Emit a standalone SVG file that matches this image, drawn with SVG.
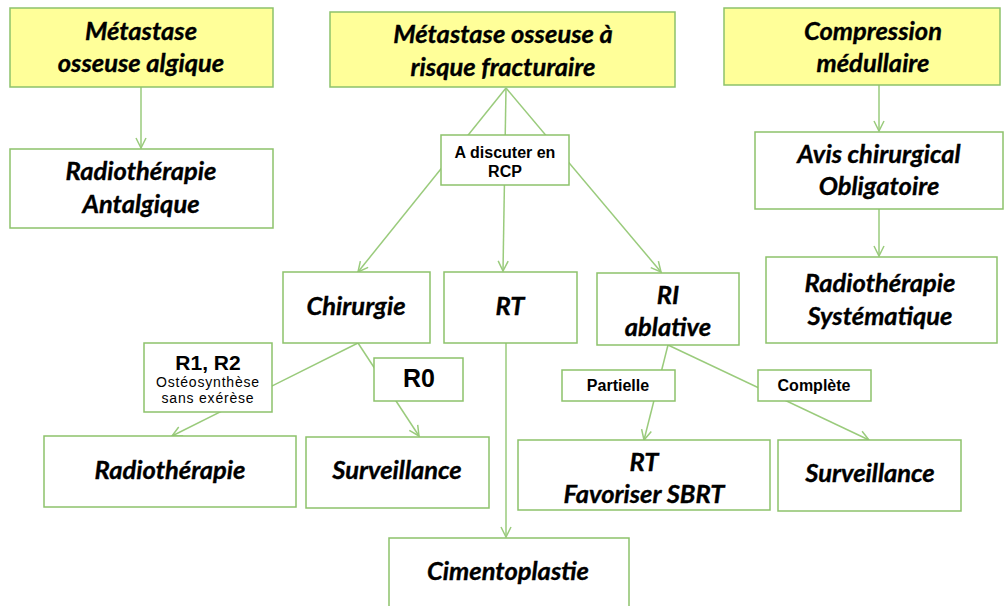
<svg xmlns="http://www.w3.org/2000/svg" width="1008" height="606" viewBox="0 0 1008 606">
<style>
.box{fill:#ffffff;stroke:#8dc26b;stroke-width:1.5}
.ybox{fill:#ffff99;stroke:#8dc26b;stroke-width:1.5}
.t{font-family:Lato,"Open Sans",sans-serif;font-weight:bold;font-style:italic;font-size:25.5px;fill:#000;stroke:#000;stroke-width:0.35;text-anchor:middle}
.s{font-family:"Liberation Sans",Arial,sans-serif;font-weight:bold;font-size:16px;fill:#000;text-anchor:middle}
.c{fill:none;stroke:#9acb7c;stroke-width:1.5}
</style>
<defs>
<marker id="ah" viewBox="0 0 12 12" refX="11" refY="6" markerWidth="12" markerHeight="12" markerUnits="userSpaceOnUse" orient="auto">
<polyline points="1,1 11,6 1,11" fill="none" stroke="#9acb7c" stroke-width="1.5"/>
</marker>
</defs>
<g id="connectors">
<line class="c" x1="141" y1="87" x2="141" y2="148" marker-end="url(#ah)"/>
<line class="c" x1="879" y1="85" x2="879" y2="131" marker-end="url(#ah)"/>
<line class="c" x1="879" y1="209" x2="879" y2="256" marker-end="url(#ah)"/>
<line class="c" x1="506" y1="88" x2="358" y2="272" marker-end="url(#ah)"/>
<line class="c" x1="506" y1="88" x2="503" y2="271" marker-end="url(#ah)"/>
<line class="c" x1="506" y1="88" x2="661" y2="272" marker-end="url(#ah)"/>
<line class="c" x1="358" y1="343" x2="172" y2="436" marker-end="url(#ah)"/>
<line class="c" x1="358" y1="343" x2="419" y2="436" marker-end="url(#ah)"/>
<line class="c" x1="668" y1="345" x2="644" y2="440" marker-end="url(#ah)"/>
<line class="c" x1="668" y1="345" x2="869" y2="440" marker-end="url(#ah)"/>
<line class="c" x1="506" y1="343" x2="506" y2="537" marker-end="url(#ah)"/>
</g>
<g id="n_algique"><rect class="ybox" x="10" y="8" width="263" height="79"/><text class="t" x="141" y="40">Métastase</text><text class="t" x="141" y="72">osseuse algique</text></g>
<g id="n_fract"><rect class="ybox" x="330" y="12" width="345" height="75"/><text class="t" x="503" y="43">Métastase osseuse à</text><text class="t" x="503" y="76">risque fracturaire</text></g>
<g id="n_compr"><rect class="ybox" x="724" y="8" width="276" height="77"/><text class="t" x="873" y="40">Compression</text><text class="t" x="873" y="72">médullaire</text></g>
<g id="n_rtant"><rect class="box" x="10" y="149" width="263" height="79"/><text class="t" x="141" y="180">Radiothérapie</text><text class="t" x="141" y="213">Antalgique</text></g>
<g id="n_avis"><rect class="box" x="755" y="132" width="248" height="77"/><text class="t" x="879" y="163">Avis chirurgical</text><text class="t" x="879" y="195">Obligatoire</text></g>
<g id="n_rtsys"><rect class="box" x="766" y="257" width="231" height="86"/><text class="t" x="880" y="292">Radiothérapie</text><text class="t" x="880" y="325">Systématique</text></g>
<g id="n_rcp"><rect class="box" x="441" y="135" width="128" height="50"/><text class="s" x="505" y="158">A discuter en</text><text class="s" x="505" y="177">RCP</text></g>
<g id="n_chir"><rect class="box" x="283" y="272" width="147" height="71"/><text class="t" x="356" y="315">Chirurgie</text></g>
<g id="n_rt"><rect class="box" x="444" y="272" width="133" height="71"/><text class="t" x="510" y="315">RT</text></g>
<g id="n_ri"><rect class="box" x="597" y="273" width="142" height="72"/><text class="t" x="668" y="304">RI</text><text class="t" x="668" y="336">ablative</text></g>
<g id="n_r12"><rect class="box" x="144" y="343" width="128" height="69"/><text class="s" x="208" y="370" style="font-size:21px">R1, R2</text><text class="s" x="208" y="387" style="font-weight:normal;font-size:14px;letter-spacing:0.8px">Ostéosynthèse</text><text class="s" x="208" y="403" style="font-weight:normal;font-size:14px;letter-spacing:0.8px">sans exérèse</text></g>
<g id="n_r0"><rect class="box" x="374" y="358" width="89" height="43"/><text class="s" x="419" y="387" style="font-size:25px">R0</text></g>
<g id="n_radio"><rect class="box" x="44" y="436" width="252" height="71"/><text class="t" x="170" y="479">Radiothérapie</text></g>
<g id="n_surv1"><rect class="box" x="306" y="437" width="183" height="71"/><text class="t" x="397" y="479">Surveillance</text></g>
<g id="n_part"><rect class="box" x="562" y="370" width="113" height="31"/><text class="s" x="618" y="391">Partielle</text></g>
<g id="n_comp"><rect class="box" x="758" y="370" width="113" height="31"/><text class="s" x="814" y="391">Complète</text></g>
<g id="n_sbrt"><rect class="box" x="518" y="440" width="252" height="70"/><text class="t" x="644" y="471">RT</text><text class="t" x="644" y="503">Favoriser SBRT</text></g>
<g id="n_surv2"><rect class="box" x="778" y="440" width="183" height="71"/><text class="t" x="870" y="482">Surveillance</text></g>
<g id="n_ciment"><rect class="box" x="389" y="538" width="240" height="80"/><text class="t" x="508" y="580">Cimentoplastie</text></g>
</svg>
